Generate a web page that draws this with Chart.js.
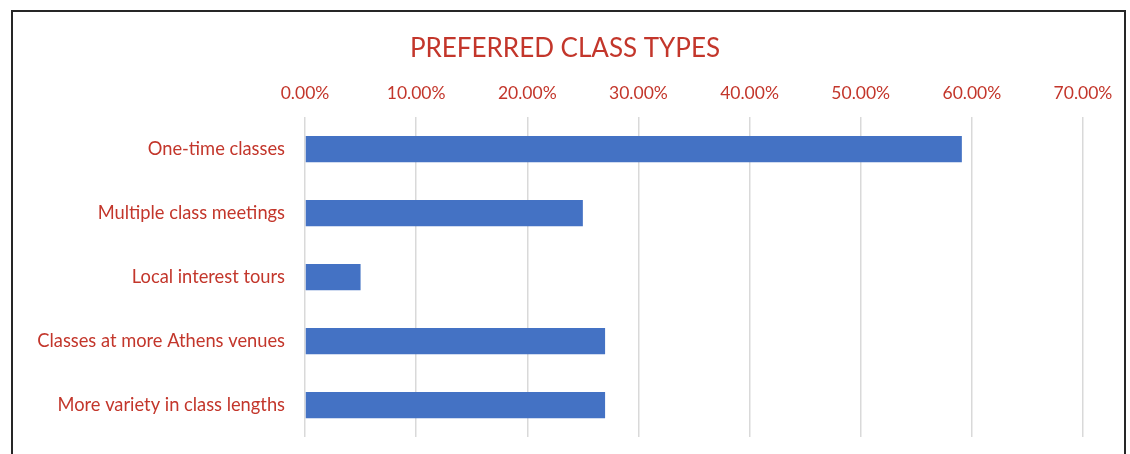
<!DOCTYPE html>
<html lang="en">

<head>
    <meta charset="UTF-8">
    <title>Preferred Class Types</title>
    <script src="https://cdn.jsdelivr.net/npm/chart.js"></script>
    <style>
        body { margin: 0; background: #fff; }
        .quadro { position: relative; width: 1130px; height: 454px; overflow: hidden; }
        .borda {
            position: absolute; left: 11px; top: 10px; width: 1111px; height: 500px;
            border: 2px solid #262626; pointer-events: none;
        }
    </style>
</head>

<body>
    <div class="quadro">
        <canvas id="grafico" width="1130" height="454"></canvas>
        <div class="borda"></div>
    </div>

<script>
    // dados
    const categorias = [
        'One-time classes',
        'Multiple class meetings',
        'Local interest tours',
        'Classes at more Athens venues',
        'More variety in class lengths'
    ];
    const valores = [59.1, 25.0, 5.0, 27.0, 27.0]; // em %
    const eixoMax = 70;
    const eixoPasso = 10;

    const vermelho = '#C3362B';
    const azul = '#4472C4';

    const grafico = new Chart(document.getElementById('grafico'), {
        type: 'bar',
        data: {
            labels: categorias,
            datasets: [{
                data: valores,
                backgroundColor: azul,
                categoryPercentage: 1,
                barPercentage: 0.41
            }]
        },
        options: {
            indexAxis: 'y',
            responsive: false,
            animation: false,
            layout: { padding: { left: 0, right: 0, top: 0, bottom: 17 } },
            plugins: {
                legend: { display: false },
                tooltip: { enabled: false },
                title: {
                    display: true,
                    text: 'PREFERRED CLASS TYPES',
                    color: vermelho,
                    font: { family: 'Lato', size: 26, weight: 'normal' },
                    padding: { top: 33, bottom: 0 }
                }
            },
            scales: {
                x: {
                    position: 'top',
                    min: 0,
                    max: eixoMax,
                    ticks: {
                        stepSize: eixoPasso,
                        color: vermelho,
                        padding: 13,
                        font: { family: 'Lato', size: 17.5 },
                        callback: (v) => v.toFixed(2) + '%'
                    },
                    grid: { color: '#d9d9d9', lineWidth: 1.5, drawTicks: false },
                    border: { display: false },
                    afterFit: (eixo) => { eixo.height = 53; }
                },
                y: {
                    ticks: {
                        color: vermelho,
                        padding: 12,
                        font: { family: 'Lato', size: 18.3 }
                    },
                    grid: { display: false },
                    border: { display: false },
                    afterFit: (eixo) => {
                        eixo.width = 305;
                        eixo.paddingTop = 0;
                        eixo.paddingBottom = 0;
                    }
                },
                // eixo vazio so para reservar espaco a direita
                margem: {
                    type: 'category',
                    position: 'right',
                    ticks: { display: false },
                    grid: { display: false },
                    border: { display: false },
                    afterFit: (eixo) => {
                        eixo.width = 47;
                        eixo.paddingTop = 0;
                        eixo.paddingBottom = 0;
                    }
                }
            }
        }
    });
</script>
</body>

</html>
